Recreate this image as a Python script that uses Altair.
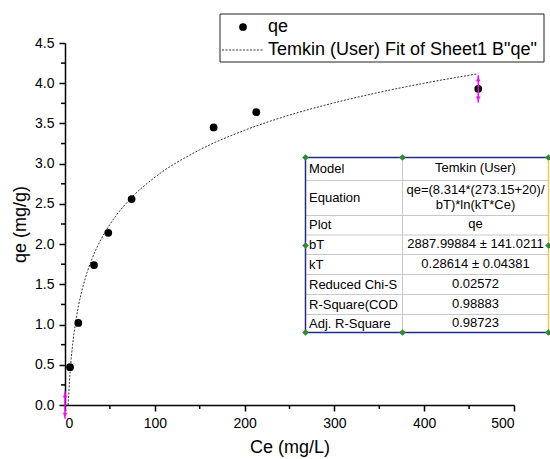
import altair as alt
import pandas as pd

# ---------------- data ----------------
ce = [5.6, 14.8, 32.3, 48.2, 74.2, 165.5, 213.0, 460.2]
qe = [0.47, 1.02, 1.74, 2.14, 2.56, 3.45, 3.64, 3.93]

fit_ce = [3.5, 5, 7.5, 10, 15, 20, 30, 40, 50, 75, 100, 150, 200, 250, 300, 350, 400, 460]
fit_qe = [0.0, 0.30, 0.645, 0.887, 1.23, 1.472, 1.814, 2.057, 2.245, 2.588, 2.830,
          3.172, 3.415, 3.604, 3.757, 3.887, 4.000, 4.118]

err_ce = [0.0, 460.2]
err_qe = [0.0, 3.93]
err_half = [0.17, 0.17]

x_ticks = [0, 100, 200, 300, 400, 500]
x_minor = [50, 150, 250, 350, 450]
y_ticks = [0.0, 0.5, 1.0, 1.5, 2.0, 2.5, 3.0, 3.5, 4.0, 4.5]
y_minor = [0.25, 0.75, 1.25, 1.75, 2.25, 2.75, 3.25, 3.75, 4.25]

legend_labels = ["qe", 'Temkin (User) Fit of Sheet1 B"qe"']

table_labels = ["Model", "Equation", "Plot", "bT", "kT",
                "Reduced Chi-S", "R-Square(COD", "Adj. R-Square"]
table_values = ["Temkin (User)", "qe=(8.314*(273.15+20)/\nbT)*ln(kT*Ce)", "qe",
                "2887.99884 ± 141.0211", "0.28614 ± 0.04381",
                "0.02572", "0.98883", "0.98723"]

# ---------------- layout ----------------
OX, OY = 65, 43
W, H = 449, 362
FONT = "Liberation Sans"


def px(v):
    return v - OX


def py(v):
    return v - OY


xs = alt.Scale(domain=[0, 500], nice=False, zero=False)
ys = alt.Scale(domain=[0, 4.5], nice=False, zero=False)

axis_common = dict(grid=False, domainColor="black", domainWidth=1.5, tickColor="black",
                   tickWidth=1.5, tickSize=6, labelFont=FONT, labelFontSize=14,
                   labelColor="black", titleFont=FONT, titleFontSize=18,
                   titleColor="black", titleFontWeight="normal")

x_axis = alt.Axis(values=x_ticks, format="d", title="Ce (mg/L)", labelPadding=5,
                  titlePadding=8, **axis_common)
y_axis = alt.Axis(values=y_ticks, format=".1f", title="qe (mg/g)", labelPadding=5,
                  titlePadding=5, **axis_common)


def X(field):
    return alt.X(field, scale=xs, axis=x_axis)


def Y(field):
    return alt.Y(field, scale=ys, axis=y_axis)


pts = pd.DataFrame({"ce": ce, "qe": qe})
fit = pd.DataFrame({"ce": fit_ce, "qe": fit_qe})
err = pd.DataFrame({"ce": err_ce,
                    "lo": [q - e for q, e in zip(err_qe, err_half)],
                    "hi": [q + e for q, e in zip(err_qe, err_half)]})

fit_line = alt.Chart(fit).mark_line(
    color="#333333", strokeWidth=1, strokeDash=[2, 1.5], interpolate="monotone", clip=False
).encode(x=X("ce:Q"), y=Y("qe:Q"))

points = alt.Chart(pts).mark_point(filled=True, color="black", opacity=1, size=60).encode(
    x=X("ce:Q"), y=Y("qe:Q"))

err_rule = alt.Chart(err).mark_rule(color="#FF00FF", strokeWidth=1.5, clip=False).encode(
    x=X("ce:Q"), y=Y("lo:Q"), y2="hi:Q")
err_up = alt.Chart(err).mark_point(shape="triangle-up", filled=True, color="#FF00FF",
                                   opacity=1, size=22, clip=False).encode(
    x=X("ce:Q"), y=Y("hi:Q"), yOffset=alt.value(4))
err_dn = alt.Chart(err).mark_point(shape="triangle-down", filled=True, color="#FF00FF",
                                   opacity=1, size=22, clip=False).encode(
    x=X("ce:Q"), y=Y("lo:Q"), yOffset=alt.value(-4))

xm = pd.DataFrame({"v": x_minor})
ym = pd.DataFrame({"v": y_minor})
x_minor_ticks = alt.Chart(xm).mark_rule(color="black", strokeWidth=1.5, clip=False).encode(
    x=X("v:Q"), y=alt.value(H), y2=alt.value(H + 4))
y_minor_ticks = alt.Chart(ym).mark_rule(color="black", strokeWidth=1.5, clip=False).encode(
    y=Y("v:Q"), x=alt.value(0), x2=alt.value(-4))

one = pd.DataFrame({"a": [0]})

# ---------------- legend box ----------------
leg_box = alt.Chart(one).mark_rect(fill="white", stroke="#222222", strokeWidth=1).encode(
    x=alt.value(px(220)), x2=alt.value(px(544)), y=alt.value(py(14)), y2=alt.value(py(62)))
leg_dot = alt.Chart(one).mark_point(filled=True, color="black", opacity=1, size=60).encode(
    x=alt.value(px(243)), y=alt.value(py(27)))
leg_line = alt.Chart(one).mark_rule(color="#333333", strokeWidth=1, strokeDash=[2, 1.5]).encode(
    x=alt.value(px(222)), x2=alt.value(px(264)), y=alt.value(py(50)))
leg_text_df = pd.DataFrame({"t": legend_labels, "y": [py(27), py(50)]})
leg_text = alt.Chart(leg_text_df).mark_text(
    align="left", baseline="middle", font=FONT, fontSize=18, color="black").encode(
    x=alt.value(px(268)), y=alt.Y("y:Q", scale=None), text="t:N")

# ---------------- parameter table ----------------
TL, TM, TR = 305.5, 402.5, 548.5
row_edges = [157.5, 180.5, 215.5, 235.0, 254.5, 274.5, 294.5, 314.5, 332.5]
centers = [(a + b) / 2 for a, b in zip(row_edges[:-1], row_edges[1:])]
LH = 15

tbl_bg = alt.Chart(one).mark_rect(fill="white").encode(
    x=alt.value(px(TL)), x2=alt.value(px(TR)), y=alt.value(py(row_edges[0])),
    y2=alt.value(py(row_edges[-1])))

hlines = pd.DataFrame({"y": [py(v) for v in row_edges[1:-1]]})
tbl_h = alt.Chart(hlines).mark_rule(color="#c8c8c8", strokeWidth=1).encode(
    x=alt.value(px(TL)), x2=alt.value(px(TR)), y=alt.Y("y:Q", scale=None))
tbl_v = alt.Chart(one).mark_rule(color="#c8c8c8", strokeWidth=1).encode(
    x=alt.value(px(TM)), y=alt.value(py(row_edges[0])), y2=alt.value(py(row_edges[-1])))

border_df = pd.DataFrame({
    "x": [px(TL), px(TL), px(TL)],
    "x2": [px(TR), px(TR), px(TL)],
    "y": [py(row_edges[0]), py(row_edges[-1]), py(row_edges[0])],
    "y2": [py(row_edges[0]), py(row_edges[-1]), py(row_edges[-1])],
})
tbl_border = alt.Chart(border_df).mark_rule(color="#1f2a8a", strokeWidth=1.5).encode(
    x=alt.X("x:Q", scale=None), x2="x2:Q", y=alt.Y("y:Q", scale=None), y2="y2:Q")
tbl_right = alt.Chart(one).mark_rule(color="#f2c94c", strokeWidth=1.5).encode(
    x=alt.value(px(TR)), y=alt.value(py(row_edges[0])), y2=alt.value(py(row_edges[-1])))

n_lines = [v.count("\n") + 1 for v in table_values]
tdf = pd.DataFrame({"label": table_labels, "value": table_values,
                    "y": [py(c) for c in centers],
                    "yv": [py(c) - 1 - (n - 1) * LH / 2 for c, n in zip(centers, n_lines)]})
tbl_lab = alt.Chart(tdf).mark_text(
    align="left", baseline="middle", font=FONT, fontSize=13, color="black").encode(
    x=alt.value(px(309)), y=alt.Y("y:Q", scale=None), text="label:N")
tbl_val = alt.Chart(tdf).mark_text(
    align="center", baseline="middle", font=FONT, fontSize=13, color="black",
    lineBreak="\n", lineHeight=LH).encode(
    x=alt.value(px((TM + TR) / 2)), y=alt.Y("yv:Q", scale=None), text="value:N")

handles = pd.DataFrame({
    "x": [px(v) for v in [TL, TM, TR, TL, TR, TL, TM, TR]],
    "y": [py(v) for v in [157.5, 157.5, 157.5, 245.5, 245.5, 332.5, 332.5, 332.5]],
})
tbl_handles = alt.Chart(handles).mark_point(
    shape="diamond", filled=True, color="#2e8b2e", opacity=1, size=45).encode(
    x=alt.X("x:Q", scale=None), y=alt.Y("y:Q", scale=None))

chart = alt.layer(
    fit_line, points, err_rule, err_up, err_dn, x_minor_ticks, y_minor_ticks,
    tbl_bg, tbl_h, tbl_v, tbl_border, tbl_right, tbl_lab, tbl_val, tbl_handles,
    leg_box, leg_dot, leg_line, leg_text,
).properties(
    width=W, height=H,
    autosize=alt.AutoSizeParams(type="none"),
    padding={"left": OX, "top": OY, "right": 550 - OX - W, "bottom": 459 - OY - H},
    background="white",
).configure_view(stroke=None)

chart.save("out.html", embed_options={"renderer": "svg", "actions": False})
